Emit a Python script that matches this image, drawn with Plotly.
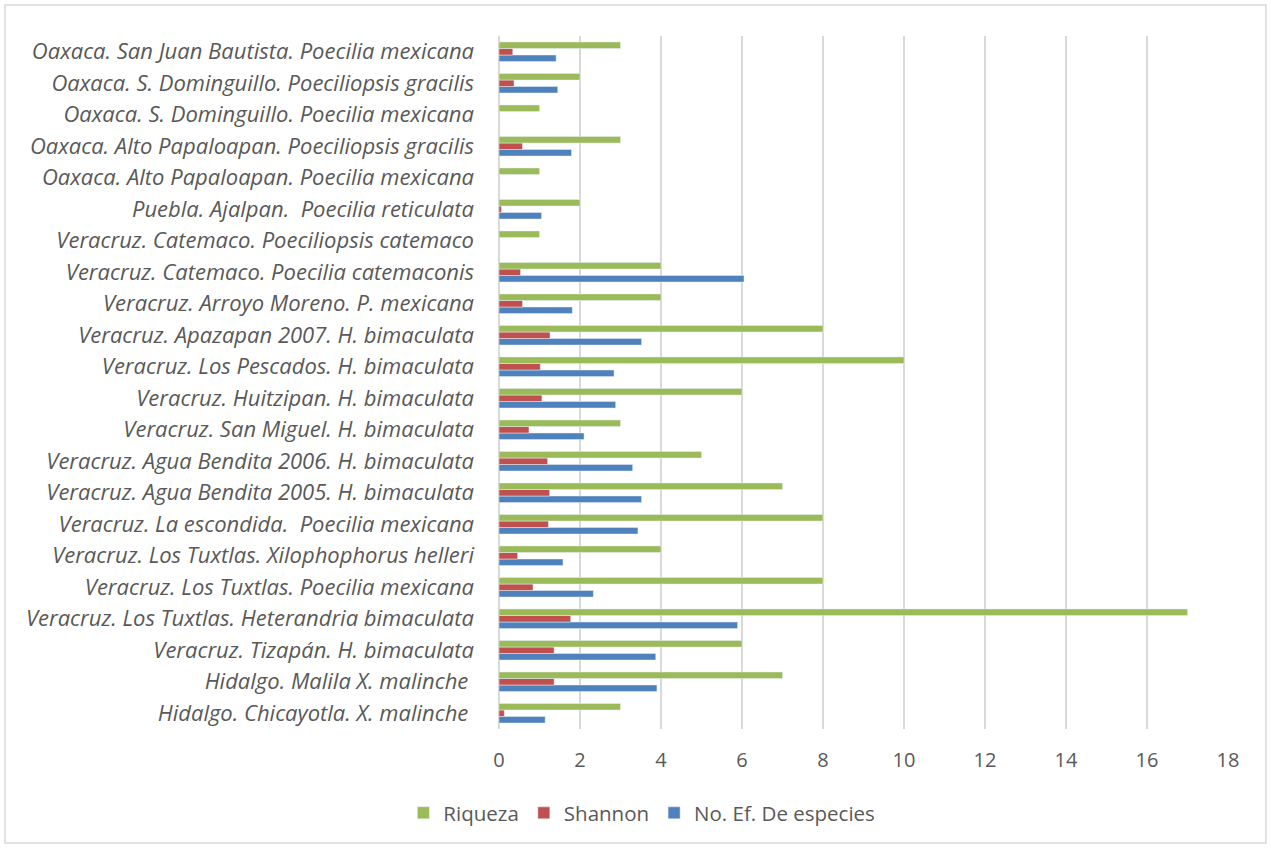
import plotly.graph_objects as go

# Sites listed bottom-to-top as they appear on the category axis
sitios = [
    "Hidalgo. Chicayotla. X. malinche\u00a0",
    "Hidalgo. Malila X. malinche\u00a0",
    "Veracruz. Tizapán. H. bimaculata",
    "Veracruz. Los Tuxtlas. Heterandria bimaculata",
    "Veracruz. Los Tuxtlas. Poecilia mexicana",
    "Veracruz. Los Tuxtlas. Xilophophorus helleri",
    "Veracruz. La escondida.\u00a0 Poecilia mexicana",
    "Veracruz. Agua Bendita 2005. H. bimaculata",
    "Veracruz. Agua Bendita 2006. H. bimaculata",
    "Veracruz. San Miguel. H. bimaculata",
    "Veracruz. Huitzipan. H. bimaculata",
    "Veracruz. Los Pescados. H. bimaculata",
    "Veracruz. Apazapan 2007. H. bimaculata",
    "Veracruz. Arroyo Moreno. P. mexicana",
    "Veracruz. Catemaco. Poecilia catemaconis",
    "Veracruz. Catemaco. Poeciliopsis catemaco",
    "Puebla. Ajalpan.\u00a0 Poecilia reticulata",
    "Oaxaca. Alto Papaloapan. Poecilia mexicana",
    "Oaxaca. Alto Papaloapan. Poeciliopsis gracilis",
    "Oaxaca. S. Dominguillo. Poecilia mexicana",
    "Oaxaca. S. Dominguillo. Poeciliopsis gracilis",
    "Oaxaca. San Juan Bautista. Poecilia mexicana",
]

riqueza = [3, 7, 6, 17, 8, 4, 8, 7, 5, 3, 6, 10, 8, 4, 4, 1, 2, 1, 3, 1, 2, 3]
shannon = [0.13, 1.36, 1.36, 1.77, 0.84, 0.46, 1.22, 1.25, 1.20, 0.74, 1.06, 1.02,
           1.26, 0.58, 0.53, None, 0.06, None, 0.58, None, 0.37, 0.34]
no_ef = [1.14, 3.90, 3.87, 5.89, 2.33, 1.58, 3.43, 3.52, 3.30, 2.10, 2.88, 2.84,
         3.52, 1.81, 6.05, None, 1.05, None, 1.79, None, 1.45, 1.41]

x_ticks = [0, 2, 4, 6, 8, 10, 12, 14, 16, 18]

GREEN = "#9BBB59"
RED = "#C0504D"
BLUE = "#4F81BD"
TEXT = "#595959"
GRID = "#D9D9D9"
FONT = "Open Sans, sans-serif"

fig = go.Figure()
fig.add_trace(go.Bar(y=sitios, x=no_ef, orientation="h", name="No. Ef. De especies",
                     marker=dict(color=BLUE)))
fig.add_trace(go.Bar(y=sitios, x=shannon, orientation="h", name="Shannon",
                     marker=dict(color=RED)))
fig.add_trace(go.Bar(y=sitios, x=riqueza, orientation="h", name="Riqueza",
                     marker=dict(color=GREEN)))

W, H = 1271, 848
L, R, T, B = 499, 43, 36, 119
pw, ph = W - L - R, H - T - B

def px_x(p):
    return (p - L) / pw

def px_y(p):
    return (H - B - p) / ph

fig.update_layout(
    width=W, height=H,
    margin=dict(l=L, r=R, t=T, b=B, pad=0),
    paper_bgcolor="white", plot_bgcolor="white",
    barmode="group", bargap=0.38, bargroupgap=0,
    font=dict(family=FONT, color=TEXT, size=20),
    xaxis=dict(range=[0, 18], tickvals=x_ticks, showgrid=True, gridcolor=GRID,
               gridwidth=1.5, zeroline=True, zerolinecolor=GRID, zerolinewidth=1.5,
               showline=False, ticks="", tickfont=dict(size=20, color=TEXT),
               ticklabelstandoff=17, fixedrange=True),
    yaxis=dict(categoryorder="array", categoryarray=sitios, showgrid=False,
               showline=False, ticks="", ticklabelstandoff=24,
               tickfont=dict(size=22, color=TEXT, style="italic"), fixedrange=True),
    legend=dict(orientation="h", traceorder="reversed", xref="container", x=0.505,
                xanchor="center", yref="container", y=(H - 813) / H, yanchor="middle",
                font=dict(size=20.5, color=TEXT), itemwidth=30),
    showlegend=True,
    shapes=[dict(type="rect", xref="paper", yref="paper",
                 x0=px_x(5), x1=px_x(1266), y0=px_y(843), y1=px_y(5),
                 line=dict(color="#D9D9D9", width=1.5), layer="below")],
)

fig.write_html("out.html")
